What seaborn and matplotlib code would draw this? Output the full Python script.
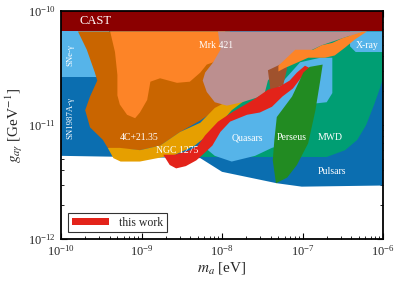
import numpy as np
import matplotlib
matplotlib.use("Agg")
import matplotlib.pyplot as plt
import seaborn as sns

# region outlines, log10(m_a / eV) and log10(g / GeV^-1)
pulsars_m = [-10, -8.27, -8.00, -7.32, -7.01, -6.00, -6.00, -10]
pulsars_g = [-11.27, -11.29, -11.41, -11.51, -11.54, -11.53, -10.0, -10.0]

sne_m = [-10, -9.4, -9.4, -10]
sne_g = [-10.18, -10.18, -10.58, -10.58]

mwd_m = [-8.27, -6.70, -6.47, -6.32, -6.21, -6.11, -6.04, -6.00, -6.00, -7.16, -8.27]
mwd_g = [-11.28, -11.28, -11.22, -11.13, -11.00, -10.82, -10.68, -10.59, -10.18, -10.18, -11.20]

xray_m = [-6.41, -6.00, -6.00, -6.34, -6.41]
xray_g = [-10.18, -10.18, -10.36, -10.36, -10.31]

quasar_m = [-8.21, -8.09, -7.88, -7.59, -7.38, -7.28, -7.03, -6.83, -6.70, -6.63, -6.63,
            -6.78, -7.03, -7.40, -7.78, -8.02, -8.21]
quasar_g = [-11.20, -11.27, -11.32, -11.27, -11.20, -11.18, -10.87, -10.81, -10.80, -10.72, -10.41,
            -10.41, -10.45, -10.74, -10.89, -11.03, -11.13]

c4_m = [-9.79, -7.90, -7.90, -8.27, -8.52, -8.77, -9.02, -9.42, -9.48, -9.64, -9.70, -9.64, -9.55, -9.58, -9.68]
c4_g = [-10.18, -10.18, -10.78, -10.96, -11.06, -11.18, -11.22, -11.20, -11.13, -11.02, -10.87, -10.75, -10.61, -10.54, -10.34]

bright_m = [-9.39, -7.96, -8.02, -8.11, -8.19, -8.27, -8.40, -8.56, -8.77, -8.89, -8.93, -9.02, -9.08,
            -9.18, -9.27, -9.30, -9.30, -9.33]
bright_g = [-10.18, -10.18, -10.39, -10.45, -10.47, -10.54, -10.62, -10.63, -10.59, -10.62, -10.78, -10.89, -10.94,
            -10.91, -10.82, -10.74, -10.56, -10.36]

ngc_m = [-9.42, -9.35, -9.26, -9.02, -8.73, -8.58, -8.34, -8.09, -7.88, -7.71, -7.90, -8.09, -8.27, -8.52, -8.77, -9.02, -9.27]
ngc_g = [-11.20, -11.29, -11.32, -11.32, -11.28, -11.26, -11.18, -11.04, -10.87, -10.78, -10.78, -10.85, -10.98, -11.06, -11.18, -11.22, -11.20]

mrk_m = [-8.05, -6.25, -6.51, -6.76, -7.03, -7.28, -7.43, -7.47, -7.57, -7.75, -7.94, -8.09, -8.19, -8.24, -8.21, -8.11, -8.02]
mrk_g = [-10.18, -10.18, -10.24, -10.30, -10.39, -10.48, -10.61, -10.72, -10.76, -10.80, -10.83, -10.80, -10.71, -10.61, -10.54, -10.45, -10.34]

brown_m = [-7.43, -7.25, -7.19, -7.24, -7.40]
brown_g = [-10.52, -10.46, -10.50, -10.65, -10.69]

red_m = [-8.73, -8.65, -8.57, -8.45, -8.32, -8.21, -8.12, -8.02, -7.90, -7.69, -7.53, -7.38, -7.25, -7.12, -6.99, -6.91,
         -6.97, -7.07, -7.16, -7.28, -7.43, -7.57, -7.71, -7.88, -8.05, -8.21, -8.30, -8.40, -8.58]
red_g = [-11.26, -11.35, -11.38, -11.36, -11.31, -11.24, -11.18, -11.06, -10.97, -10.91, -10.89, -10.84, -10.75, -10.68, -10.56, -10.50,
         -10.48, -10.54, -10.61, -10.66, -10.69, -10.76, -10.82, -10.89, -10.97, -11.09, -11.18, -11.22, -11.26]

perseus_m = [-7.33, -7.37, -7.35, -7.32, -7.13, -6.99, -6.91, -6.75, -6.78, -6.84, -6.93, -7.07, -7.19]
perseus_g = [-11.51, -11.31, -11.13, -10.93, -10.75, -10.54, -10.49, -10.47, -10.61, -10.87, -11.16, -11.35, -11.46]

strip_m = [-6.25, -6.20, -6.35, -6.47, -6.60, -6.72, -6.93, -7.09, -7.22, -7.30, -7.30, -7.18, -7.09, -6.87, -6.76, -6.63, -6.51]
strip_g = [-10.18, -10.18, -10.25, -10.32, -10.39, -10.41, -10.41, -10.46, -10.50, -10.53, -10.48, -10.40, -10.34, -10.34, -10.30, -10.28, -10.24]

cast_m = [-10, -6, -6, -10]
cast_g = [-10.0, -10.0, -10.18, -10.18]

labels = ["SNe-γ", "SN1987A-γ", "Mrk 421", "X-ray", "4C+21.35", "NGC 1275",
          "Quasars", "Perseus", "MWD", "Pulsars"]
label_m = [-9.89, -9.89, -8.07, -6.20, -9.03, -8.56, -7.69, -7.14, -6.66, -6.63]
label_g = [-10.39, -10.94, -10.30, -10.30, -11.11, -11.22, -11.11, -11.11, -11.11, -11.41]
label_rot = [90, 90, 0, 0, 0, 0, 0, 0, 0, 0]

sns.set_theme(style="ticks")
plt.rcParams["font.family"] = ["Liberation Serif", "DejaVu Serif"]
plt.rcParams["mathtext.fontset"] = "stix"
plt.rcParams["xtick.direction"] = "in"
plt.rcParams["ytick.direction"] = "in"

fig = plt.figure(figsize=(3.99, 2.81), dpi=100)
ax = fig.add_axes([0.153, 0.149, 0.807, 0.812])

def region(m, g, color, **kw):
    ax.fill(10.0 ** np.array(m), 10.0 ** np.array(g), color=color, lw=0, **kw)

region(pulsars_m, pulsars_g, "#0b6eb0")
region(sne_m, sne_g, "#56b4e9")
region(mwd_m, mwd_g, "#009e73")
region(xray_m, xray_g, "#56b4e9")
region(quasar_m, quasar_g, "#56b4e9")
region(c4_m, c4_g, "#c96500")
region(bright_m, bright_g, "#fd8427")
region(ngc_m, ngc_g, "#e69f00")
region(mrk_m, mrk_g, "#bc8f8f")
region(brown_m, brown_g, "#a0522d")
region(red_m, red_g, "#e3231a", label="this work")
region(perseus_m, perseus_g, "#228b22")
region(strip_m, strip_g, "#fd8427")
region(cast_m, cast_g, "#8b0000")

ax.text(10 ** -9.77, 10 ** -10.09, "CAST", color="white", fontsize=9, ha="left", va="center")
for t, m, g, r in zip(labels, label_m, label_g, label_rot):
    ax.text(10 ** m, 10 ** g, t, color="white", fontsize=7 if r == 0 else 6.3,
            ha="center", va="center", rotation=r,
            family=["Liberation Serif", "DejaVu Serif"])

ax.set_xscale("log")
ax.set_yscale("log")
ax.set_xlim(1e-10, 1e-6)
ax.set_ylim(1e-12, 1e-10)
ax.tick_params(which="both", top=True, right=True, labelsize=9, color="black")
ax.tick_params(which="major", length=4, width=0.8)
ax.tick_params(which="minor", length=2, width=0.6)
for s in ax.spines.values():
    s.set_linewidth(1.3)
    s.set_color("black")

ax.set_xlabel(r"$m_a$ [eV]", fontsize=11, labelpad=1)
ax.set_ylabel(r"$g_{a\gamma}$ [GeV$^{-1}$]", fontsize=11, labelpad=2)

leg = ax.legend(loc="lower left", fontsize=8.5, frameon=True, fancybox=False,
                borderpad=0.3, handlelength=3.2, handleheight=0.5, borderaxespad=0.6)
leg.get_frame().set_edgecolor("black")
leg.get_frame().set_linewidth(0.8)

fig.savefig("out.png", dpi=100)
